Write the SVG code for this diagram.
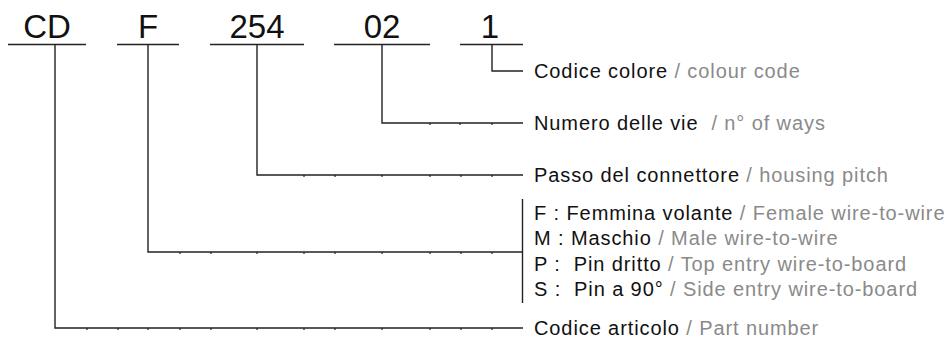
<svg xmlns="http://www.w3.org/2000/svg" width="949" height="340" viewBox="0 0 949 340">
<style>
.code{font-family:"Liberation Sans",Arial,Helvetica,sans-serif;font-size:33px;fill:#111;text-anchor:middle}
.lbl{font-family:"Liberation Sans",Arial,Helvetica,sans-serif;font-size:20px;fill:#111;white-space:pre;letter-spacing:0.9px}
.en{fill:#8a8a8a}
.ln{stroke:#222;stroke-width:1.4;fill:none}
.tk{stroke:#222;stroke-width:1.2}
</style>
<rect width="949" height="340" fill="#fff"/>
<g id="code-CD"><line class="ln" x1="8" y1="44.5" x2="86" y2="44.5"/><text class="code" x="47" y="37.5">CD</text></g>
<g id="code-F"><line class="ln" x1="117" y1="44.5" x2="179" y2="44.5"/><text class="code" x="148" y="37.5">F</text></g>
<g id="code-254"><line class="ln" x1="210" y1="44.5" x2="304" y2="44.5"/><text class="code" x="257" y="37.5">254</text></g>
<g id="code-02"><line class="ln" x1="334" y1="44.5" x2="430" y2="44.5"/><text class="code" x="382" y="37.5">02</text></g>
<g id="code-1"><line class="ln" x1="460" y1="44.5" x2="523" y2="44.5"/><text class="code" x="490" y="37.5">1</text></g>

<g id="connectors">
<polyline class="ln" points="492,44.5 492,71 523,71"/>
<polyline class="ln" points="382,44.5 382,123 523,123"/>
<polyline class="ln" points="257,44.5 257,175 523,175"/>
<polyline class="ln" points="148,44.5 148,252 523,252"/>
<line class="ln" x1="522.5" y1="199" x2="522.5" y2="303"/>
<polyline class="ln" points="55,44.5 55,328 523,328"/>
<g class="tk">
<line x1="430" y1="123" x2="430" y2="125"/><line x1="460" y1="123" x2="460" y2="125"/><line x1="492" y1="123" x2="492" y2="125"/>
<line x1="304" y1="175" x2="304" y2="177"/><line x1="335" y1="175" x2="335" y2="177"/><line x1="382" y1="175" x2="382" y2="177"/><line x1="430" y1="175" x2="430" y2="177"/><line x1="461" y1="175" x2="461" y2="177"/><line x1="492" y1="175" x2="492" y2="177"/>
<line x1="180" y1="252" x2="180" y2="254"/><line x1="211" y1="252" x2="211" y2="254"/><line x1="257" y1="252" x2="257" y2="254"/><line x1="304" y1="252" x2="304" y2="254"/><line x1="335" y1="252" x2="335" y2="254"/><line x1="382" y1="252" x2="382" y2="254"/><line x1="430" y1="252" x2="430" y2="254"/><line x1="461" y1="252" x2="461" y2="254"/><line x1="492" y1="252" x2="492" y2="254"/>
<line x1="87" y1="328" x2="87" y2="330"/><line x1="118" y1="328" x2="118" y2="330"/><line x1="148" y1="328" x2="148" y2="330"/><line x1="180" y1="328" x2="180" y2="330"/><line x1="211" y1="328" x2="211" y2="330"/><line x1="257" y1="328" x2="257" y2="330"/><line x1="304" y1="328" x2="304" y2="330"/><line x1="335" y1="328" x2="335" y2="330"/><line x1="382" y1="328" x2="382" y2="330"/><line x1="430" y1="328" x2="430" y2="330"/><line x1="461" y1="328" x2="461" y2="330"/><line x1="492" y1="328" x2="492" y2="330"/>
</g>
</g>

<g id="label-colour"><text class="lbl" x="534" y="77.5">Codice colore<tspan class="en"> / colour code</tspan></text></g>
<g id="label-ways"><text class="lbl" x="534" y="130">Numero delle vie <tspan class="en"> / n° of ways</tspan></text></g>
<g id="label-pitch"><text class="lbl" x="534" y="182">Passo del connettore<tspan class="en"> / housing pitch</tspan></text></g>
<g id="label-type">
<text class="lbl" x="534" y="219.5">F : Femmina volante<tspan class="en"> / Female wire-to-wire</tspan></text>
<text class="lbl" x="534" y="245">M : Maschio<tspan class="en"> / Male wire-to-wire</tspan></text>
<text class="lbl" x="534" y="270.5">P :  Pin dritto<tspan class="en"> / Top entry wire-to-board</tspan></text>
<text class="lbl" x="534" y="296">S :  Pin a 90°<tspan class="en"> / Side entry wire-to-board</tspan></text>
</g>
<g id="label-part"><text class="lbl" x="534" y="335">Codice articolo<tspan class="en"> / Part number</tspan></text></g>
</svg>
